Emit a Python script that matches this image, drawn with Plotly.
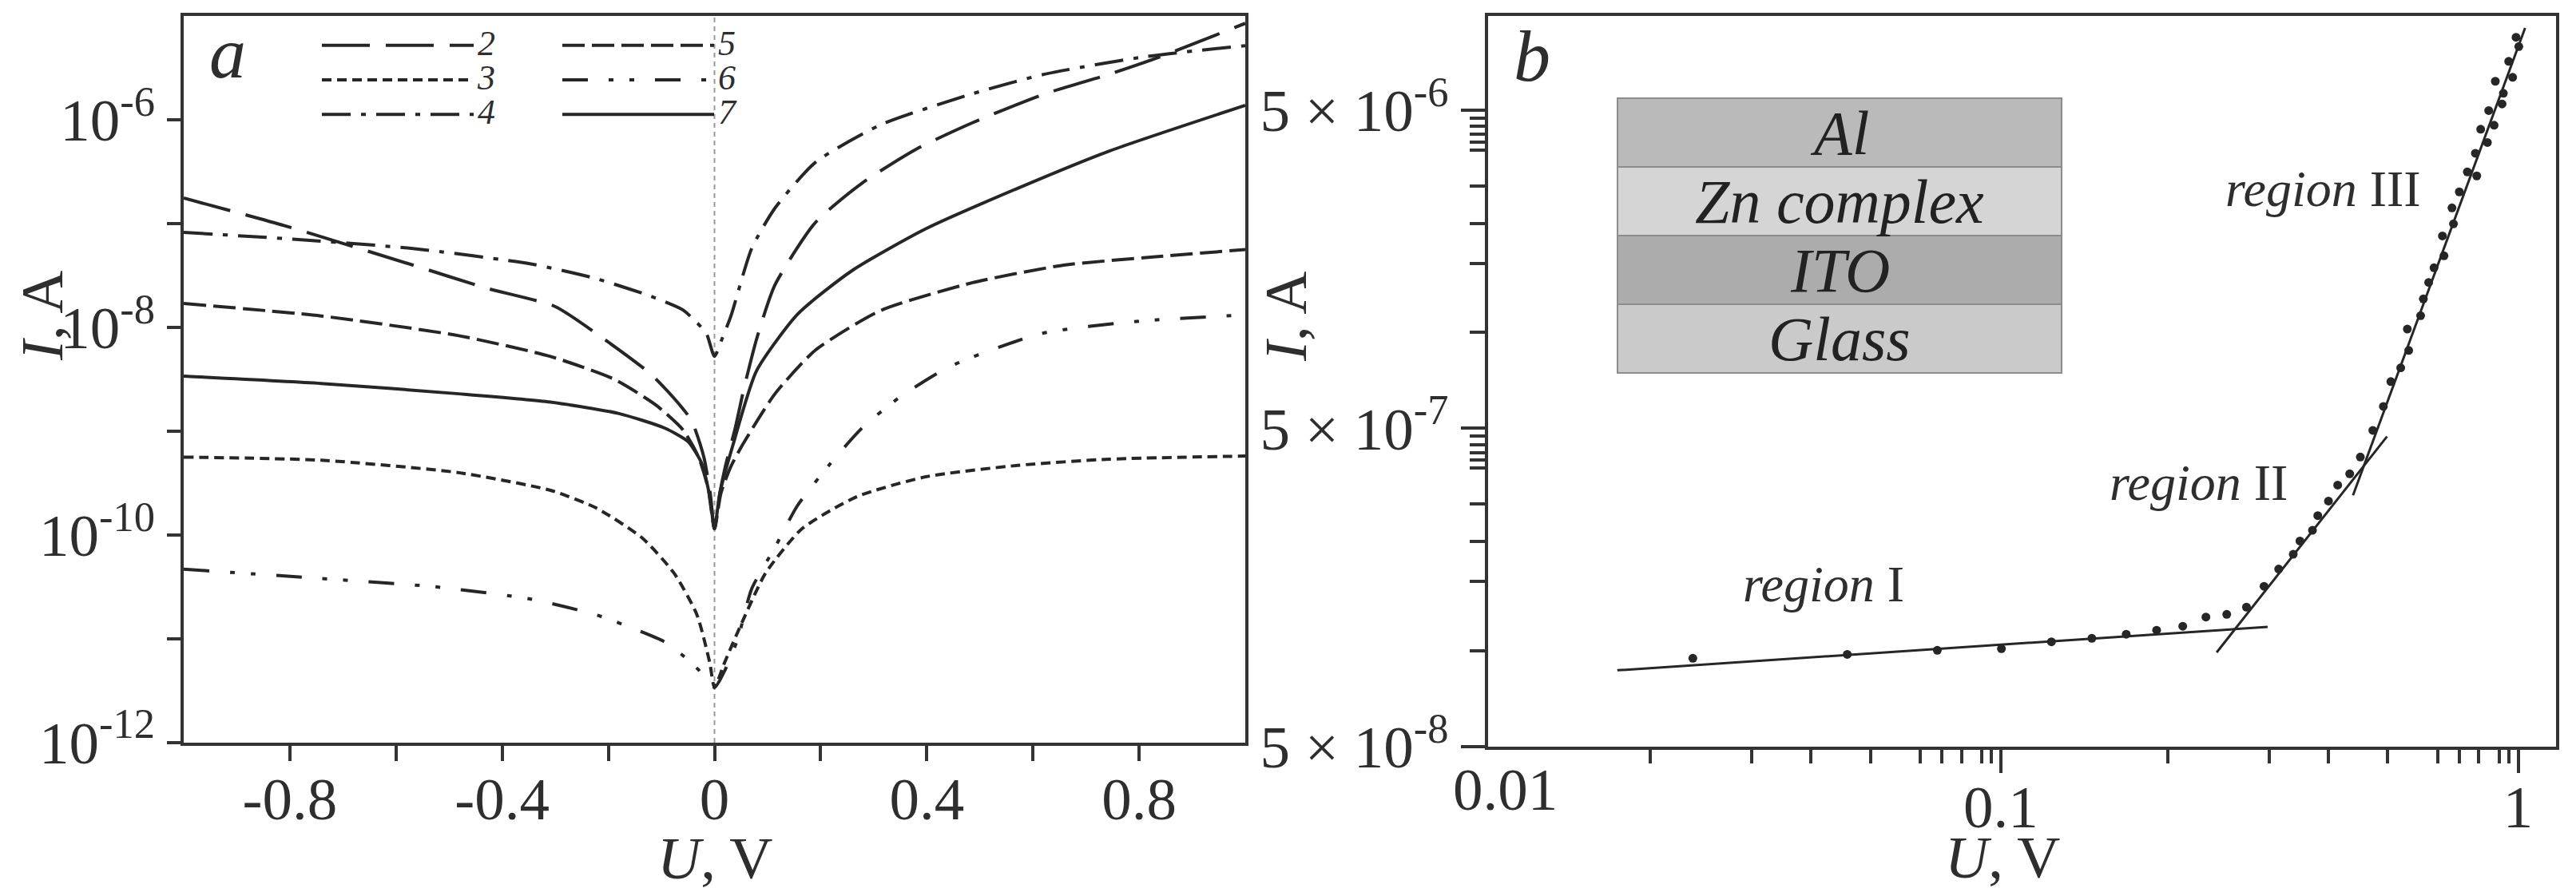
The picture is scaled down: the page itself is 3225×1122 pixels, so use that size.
import plotly.graph_objects as go

W, H = 3225, 1122
SERIF = "Liberation Serif"
TXT = "#2e2e2e"
LN = "#262626"

U2 = [-1.0, -0.81, -0.568, -0.431, -0.30, -0.206, -0.12, -0.07, -0.043, -0.02, -0.008, 0.0,
      0.01, 0.02, 0.04, 0.055, 0.08, 0.114, 0.19, 0.278, 0.381, 0.485, 0.622, 0.744, 0.83, 1.0]
L2 = [-6.754, -7.02, -7.40, -7.62, -7.80, -8.12, -8.45, -8.72, -8.90, -9.25, -9.6, -9.94,
      -9.6, -9.35, -8.95, -8.6, -8.1, -7.59, -6.99, -6.61, -6.28, -6.03, -5.75, -5.56, -5.41, -5.07]

U3 = [-1.0, -0.741, -0.482, -0.309, -0.223, -0.136, -0.076, -0.033, -0.009, 0.0,
      0.019, 0.053, 0.096, 0.165, 0.269, 0.398, 0.571, 0.744, 1.0]
L3 = [-9.25, -9.28, -9.40, -9.57, -9.74, -10.03, -10.37, -10.77, -11.23, -11.47,
      -11.23, -10.83, -10.37, -9.94, -9.63, -9.44, -9.33, -9.27, -9.24]

U4 = [-1.0, -0.794, -0.568, -0.344, -0.223, -0.12, -0.06, -0.034, -0.015, 0.0,
      0.015, 0.031, 0.07, 0.114, 0.19, 0.312, 0.485, 0.622, 0.813, 1.0]
L4 = [-7.085, -7.15, -7.24, -7.39, -7.53, -7.70, -7.83, -7.95, -8.06, -8.28,
      -8.1, -7.89, -7.24, -6.85, -6.41, -6.05, -5.75, -5.56, -5.39, -5.285]

U5 = [-1.0, -0.741, -0.482, -0.309, -0.189, -0.11, -0.059, -0.03, -0.012, 0.0,
      0.012, 0.03, 0.053, 0.114, 0.19, 0.312, 0.485, 0.658, 0.831, 1.0]
L5 = [-7.77, -7.89, -8.08, -8.28, -8.50, -8.75, -8.99, -9.25, -9.55, -9.94,
      -9.6, -9.35, -9.13, -8.64, -8.22, -7.84, -7.57, -7.40, -7.32, -7.25]

U6 = [-1.0, -0.741, -0.526, -0.344, -0.223, -0.154, -0.094, -0.067, -0.03, 0.0,
      0.02, 0.044, 0.07, 0.114, 0.156, 0.217, 0.278, 0.347, 0.442, 0.615, 0.80, 1.0]
L6 = [-10.33, -10.42, -10.50, -10.62, -10.77, -10.90, -11.03, -11.13, -11.30, -11.47,
      -11.3, -11.0, -10.52, -10.12, -9.72, -9.32, -8.97, -8.68, -8.38, -8.06, -7.94, -7.88]

U7 = [-1.0, -0.741, -0.482, -0.309, -0.18, -0.094, -0.05, -0.025, -0.01, 0.0,
      0.01, 0.035, 0.079, 0.157, 0.26, 0.398, 0.571, 0.744, 1.0]
L7 = [-8.47, -8.54, -8.64, -8.72, -8.83, -8.97, -9.10, -9.30, -9.60, -9.94,
      -9.6, -9.13, -8.42, -7.87, -7.45, -7.05, -6.66, -6.30, -5.86]

curve_names = ["2", "3", "4", "5", "6", "7"]
curve_U = [U2, U3, U4, U5, U6, U7]
curve_L = [L2, L3, L4, L5, L6, L7]
curve_dash = ["60px,20px", "12px,7px", "36px,13px,6px,13px", "28px,9px",
              "32px,26px,6px,20px,6px,26px", "solid"]
curve_legend = ["legend", "legend", "legend", "legend2", "legend2", "legend2"]

a_xticks = [-0.8, -0.4, 0.0, 0.4, 0.8]
a_xtext = ["-0.8", "-0.4", "0", "0.4", "0.8"]
a_xminor = [-0.6, -0.2, 0.2, 0.6]
a_yticks = [1e-12, 1e-10, 1e-8, 1e-6]
a_ytext = ["10<sup>-12</sup>", "10<sup>-10</sup>", "10<sup>-8</sup>", "10<sup>-6</sup>"]
a_yminor = [1e-11, 1e-9, 1e-7]

# ---------------- Panel b: log-log I-U with fits ----------------
Ub = [0.0254, 0.0505, 0.0754, 0.1003, 0.1253, 0.150, 0.1748, 0.2001, 0.2248, 0.2492,
      0.2734, 0.2985, 0.3228, 0.3445, 0.3676, 0.3787, 0.4004, 0.410, 0.430, 0.448,
      0.4726, 0.4955, 0.5238, 0.549, 0.5676, 0.593, 0.6108, 0.6145, 0.648, 0.6559,
      0.6716, 0.6878, 0.714, 0.719, 0.745, 0.750, 0.7698, 0.7977, 0.8268, 0.8318,
      0.8466, 0.8722, 0.8774, 0.8987, 0.9036, 0.9311, 0.9365, 0.9589, 0.976, 0.9908, 1.003]
Ib = [9.47e-8, 9.74e-8, 1.003e-7, 1.015e-7, 1.067e-7, 1.094e-7, 1.127e-7, 1.160e-7, 1.194e-7, 1.276e-7,
      1.301e-7, 1.371e-7, 1.594e-7, 1.806e-7, 2.009e-7, 2.212e-7, 2.390e-7, 2.658e-7, 2.954e-7, 3.316e-7,
      3.596e-7, 4.060e-7, 4.926e-7, 5.859e-7, 7.010e-7, 7.747e-7, 1.025e-6, 8.785e-7, 1.129e-6, 1.275e-6,
      1.437e-6, 1.597e-6, 2.012e-6, 1.742e-6, 2.464e-6, 2.195e-6, 2.767e-6, 3.197e-6, 3.659e-6, 3.106e-6,
      4.352e-6, 3.954e-6, 4.983e-6, 4.480e-6, 6.159e-6, 5.227e-6, 5.646e-6, 7.115e-6, 6.339e-6, 8.465e-6, 7.916e-6]

fitI_U, fitI_I = [0.01815, 0.328], [8.68e-8, 1.188e-7]
fitII_U, fitII_I = [0.2614, 0.5579], [9.88e-8, 4.71e-7]
fitIII_U, fitIII_I = [0.4796, 1.0316], [3.08e-7, 9.06e-6]

b_xticks = [0.1, 1]
b_xtext = ["0.1", "1"]
b_xminor = [0.021, 0.033, 0.043, 0.056, 0.070, 0.077, 0.084, 0.092, 0.096,
            0.21, 0.33, 0.43, 0.56, 0.70, 0.77, 0.84, 0.92, 0.96]
b_yticks = [5e-8, 5e-7, 5e-6]
b_ytext = ["5 × 10<sup>-8</sup>", "5 × 10<sup>-7</sup>", "5 × 10<sup>-6</sup>"]
b_yminor = [1.0e-7, 1.65e-7, 2.2e-7, 2.89e-7, 3.75e-7, 3.97e-7, 4.2e-7, 4.45e-7, 4.72e-7,
            1.0e-6, 1.65e-6, 2.2e-6, 2.89e-6, 3.75e-6, 3.97e-6, 4.2e-6, 4.45e-6, 4.72e-6]

layers = ["Al", "Zn complex", "ITO", "Glass"]
layer_colors = ["#bababa", "#d5d5d5", "#acacac", "#cacaca"]
region_labels = ["<i>region</i> I", "<i>region</i> II", "<i>region</i> III"]

# ---------------- Figure ----------------
fig = go.Figure()

for name, U, L, dash, lg in zip(curve_names, curve_U, curve_L, curve_dash, curve_legend):
    fig.add_trace(go.Scatter(
        x=U, y=[10 ** v for v in L], mode="lines",
        name="<span style='font-size:44px'>%s</span>" % name, legend=lg,
        line=dict(color=LN, width=4, dash=dash, shape="spline", smoothing=0.6),
        xaxis="x", yaxis="y"))

fig.add_trace(go.Scatter(x=Ub, y=Ib, mode="markers", showlegend=False,
                         marker=dict(color=LN, size=11), xaxis="x2", yaxis="y2"))
for fu, fi in [(fitI_U, fitI_I), (fitII_U, fitII_I), (fitIII_U, fitIII_I)]:
    fig.add_trace(go.Scatter(x=fu, y=fi, mode="lines", showlegend=False,
                             line=dict(color=LN, width=3), xaxis="x2", yaxis="y2"))

tickfont = dict(family=SERIF, size=75, color=TXT)
axis_common = dict(showline=True, linewidth=4, linecolor="#333333", mirror=True,
                   showgrid=False, zeroline=False, ticks="outside", tickwidth=4,
                   tickcolor="#333333", tickfont=tickfont, tickmode="array", automargin=False)


def px(x):
    return x / W


def py(y):
    return 1 - y / H


def minor(vals, length):
    return dict(tickmode="array", tickvals=vals, ticks="outside", ticklen=length,
                tickwidth=4, tickcolor="#333333", showgrid=False)


legend_font = dict(family=SERIF, size=31, color=TXT, style="italic")

fig.update_layout(
    width=W, height=H, margin=dict(l=0, r=0, t=0, b=0, pad=0, autoexpand=False),
    paper_bgcolor="white", plot_bgcolor="white",
    xaxis=dict(domain=[px(230), px(1559)], range=[-1, 1], anchor="y",
               tickvals=a_xticks, ticktext=a_xtext, ticklen=19, ticklabelstandoff=-17,
               minor=minor(a_xminor, 19), **axis_common),
    yaxis=dict(domain=[py(930), py(20)], type="log", range=[-12.002, -4.999], anchor="x",
               tickvals=a_yticks, ticktext=a_ytext, ticklen=17,
               minor=minor(a_yminor, 17), **axis_common),
    xaxis2=dict(domain=[px(1862.5), px(3200)], type="log", range=[-1.9917, 0.0733], anchor="y2",
                tickvals=b_xticks, ticktext=b_xtext, ticklen=29, ticklabelstandoff=-22,
                minor=minor(b_xminor, 17), **axis_common),
    yaxis2=dict(domain=[py(935), py(20)], type="log", range=[-7.3015, -5.0053], anchor="x2",
                tickvals=b_yticks, ticktext=b_ytext, ticklen=30,
                minor=minor(b_yminor, 19), **axis_common),
    legend=dict(x=px(398), y=py(30), xanchor="left", yanchor="top", bgcolor="rgba(0,0,0,0)",
                font=legend_font, itemwidth=190, tracegroupgap=0, traceorder="normal"),
    legend2=dict(x=px(699), y=py(30), xanchor="left", yanchor="top", bgcolor="rgba(0,0,0,0)",
                 font=legend_font, itemwidth=190, tracegroupgap=0, traceorder="normal"),
)

# zero-voltage guide line in panel a
fig.add_shape(type="line", xref="x", yref="y domain", x0=0, x1=0, y0=0, y1=1,
              line=dict(color="#9a9a9a", width=2, dash="6px,5px"), layer="below")

# device structure inset in panel b
top, step = 123, 86
for i, (lab, col) in enumerate(zip(layers, layer_colors)):
    y0, y1 = top + i * step, top + (i + 1) * step
    fig.add_shape(type="rect", xref="paper", yref="paper", x0=px(2025), x1=px(2581),
                  y0=py(y1), y1=py(y0), fillcolor=col, line=dict(color="#8c8c8c", width=2),
                  layer="above")
    fig.add_annotation(xref="paper", yref="paper", x=px(2303), y=py((y0 + y1) / 2),
                       text="<i>%s</i>" % lab, showarrow=False, xanchor="center", yanchor="middle",
                       font=dict(family=SERIF, size=78, color="#222222"))

ann_font = dict(family=SERIF, size=75, color=TXT)
texts = [
    ("<i>a</i>", 285, 66, 0, dict(family=SERIF, size=92, color=TXT)),
    ("<i>b</i>", 1918, 70, 0, dict(family=SERIF, size=92, color=TXT)),
    ("<i>I</i>, A", 52, 395, -90, ann_font),
    ("<i>I</i>, A", 1609, 396, -90, ann_font),
    ("<i>U</i>, V", 895, 1074, 0, ann_font),
    ("<i>U</i>, V", 2507, 1073, 0, ann_font),
    ("0.01", 1885, 988, 0, tickfont),
]
for t, x, y, ang, f in texts:
    fig.add_annotation(xref="paper", yref="paper", x=px(x), y=py(y), text=t, textangle=ang,
                       showarrow=False, font=f, xanchor="center", yanchor="middle")

region_pos = [(2283, 731), (2752, 604), (2908, 237)]
for lab, (x, y) in zip(region_labels, region_pos):
    fig.add_annotation(xref="paper", yref="paper", x=px(x), y=py(y), text=lab, showarrow=False,
                       xanchor="center", yanchor="middle",
                       font=dict(family=SERIF, size=64, color=TXT))

fig.write_html("out.html", config={"displayModeBar": False},
               post_script="document.body.style.margin='0px';")
